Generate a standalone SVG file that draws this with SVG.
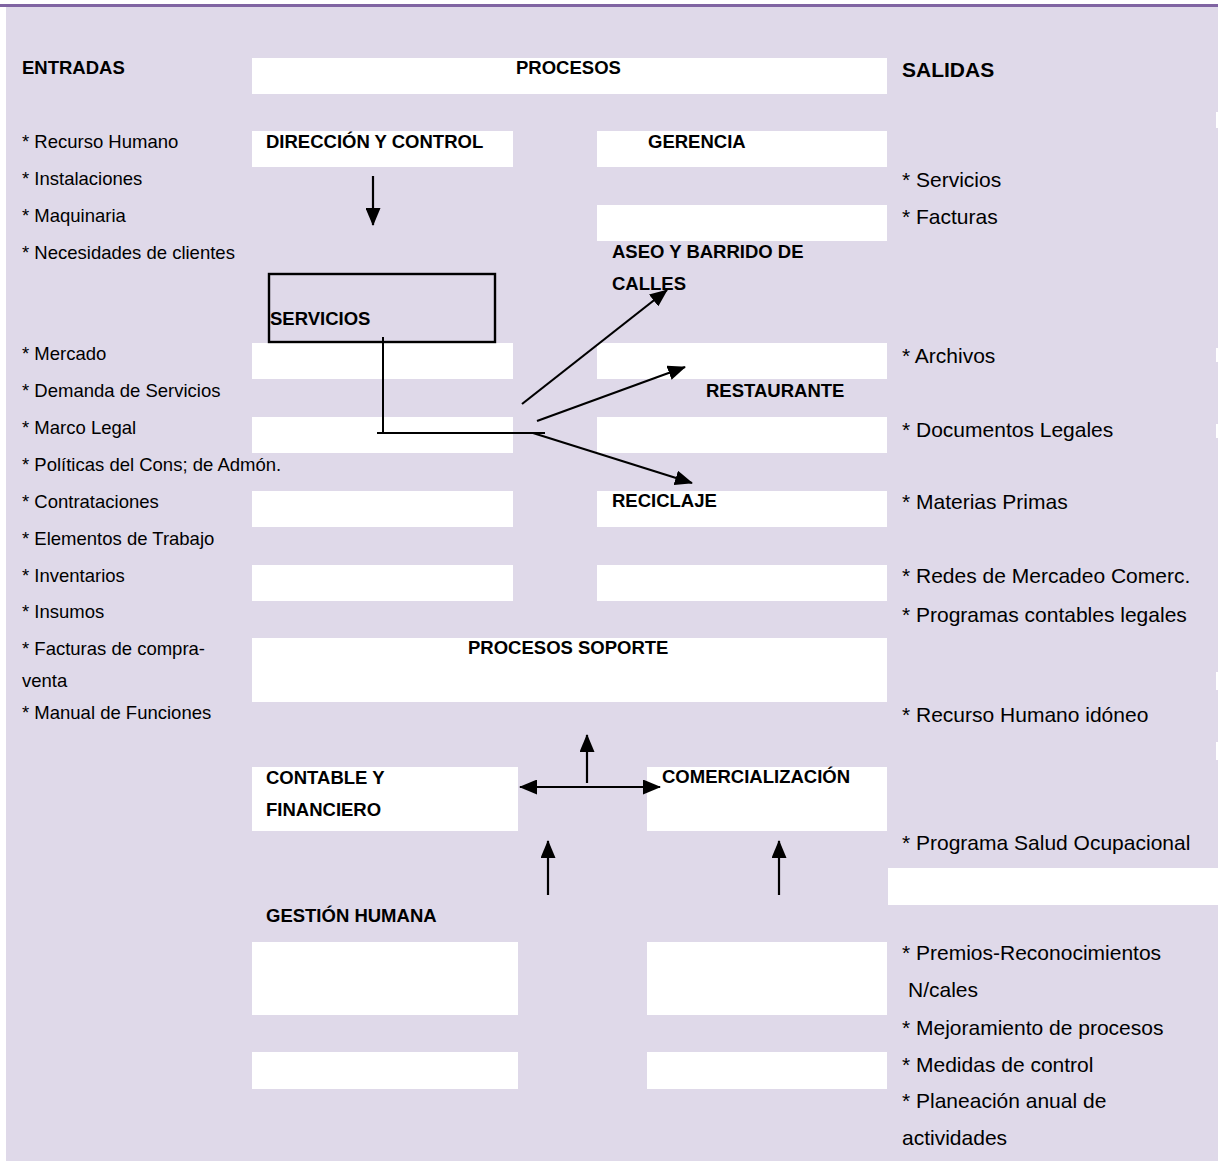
<svg xmlns="http://www.w3.org/2000/svg" width="1218" height="1161" viewBox="0 0 1218 1161">
<style>
.bg{fill:#dfd9e9}
.cell{fill:#ffffff}
.lbl{font-family:"Liberation Sans",Arial,sans-serif;font-weight:bold;font-size:18.5px;fill:#000}
.big{font-family:"Liberation Sans",Arial,sans-serif;font-weight:bold;font-size:21px;fill:#000}
.in{font-family:"Liberation Sans",Arial,sans-serif;font-size:18.5px;fill:#000}
.out{font-family:"Liberation Sans",Arial,sans-serif;font-size:21px;fill:#000}
.ln{stroke:#000;stroke-width:2;fill:none}
.arr{stroke:#000;stroke-width:2.2;fill:none;marker-end:url(#ah)}
</style>
<defs>
<marker id="ah" markerUnits="userSpaceOnUse" markerWidth="19" markerHeight="15" refX="17" refY="7.5" orient="auto-start-reverse">
<path d="M0,0 L18,7.5 L0,15 Z" fill="#000"/>
</marker>
</defs>
<rect x="0" y="0" width="1218" height="1161" fill="#ffffff"/>
<rect class="bg" x="6" y="7" width="1212" height="1154"/>
<rect x="0" y="4" width="1218" height="3" fill="#8064a2"/>
<g id="edge">
<rect class="cell" x="1216" y="112" width="2" height="16"/>
<rect class="cell" x="1216" y="348" width="2" height="14"/>
<rect class="cell" x="1216" y="424" width="2" height="14"/>
<rect class="cell" x="1216" y="672" width="2" height="18"/>
<rect class="cell" x="1216" y="742" width="2" height="18"/>
</g>

<g id="entradas">
<text class="lbl" x="22" y="74">ENTRADAS</text>
<text class="in" x="22" y="148">* Recurso Humano</text>
<text class="in" x="22" y="185">* Instalaciones</text>
<text class="in" x="22" y="222">* Maquinaria</text>
<text class="in" x="22" y="259">* Necesidades de clientes</text>
<text class="in" x="22" y="360">* Mercado</text>
<text class="in" x="22" y="397">* Demanda de Servicios</text>
<text class="in" x="22" y="434">* Marco Legal</text>
<text class="in" x="22" y="471">* Políticas del Cons; de Admón.</text>
<text class="in" x="22" y="508">* Contrataciones</text>
<text class="in" x="22" y="545">* Elementos de Trabajo</text>
<text class="in" x="22" y="582">* Inventarios</text>
<text class="in" x="22" y="618">* Insumos</text>
<text class="in" x="22" y="655">* Facturas de compra-</text>
<text class="in" x="22" y="687">venta</text>
<text class="in" x="22" y="719">* Manual de Funciones</text>
</g>

<g id="salidas">
<text class="big" x="902" y="77">SALIDAS</text>
<text class="out" x="902" y="187">* Servicios</text>
<text class="out" x="902" y="224">* Facturas</text>
<text class="out" x="902" y="363">* Archivos</text>
<text class="out" x="902" y="437">* Documentos Legales</text>
<text class="out" x="902" y="509">* Materias Primas</text>
<text class="out" x="902" y="583">* Redes de Mercadeo Comerc.</text>
<text class="out" x="902" y="622">* Programas contables legales</text>
<text class="out" x="902" y="722">* Recurso Humano idóneo</text>
<text class="out" x="902" y="850">* Programa Salud Ocupacional</text>
<text class="out" x="902" y="960">* Premios-Reconocimientos</text>
<text class="out" x="908" y="997">N/cales</text>
<text class="out" x="902" y="1035">* Mejoramiento de procesos</text>
<text class="out" x="902" y="1072">* Medidas de control</text>
<text class="out" x="902" y="1108">* Planeación anual de</text>
<text class="out" x="902" y="1145">actividades</text>
</g>

<g id="cells">
<rect class="cell" x="252" y="343" width="261" height="36"/>
<rect class="cell" x="597" y="343" width="290" height="36"/>
<rect class="cell" x="252" y="417" width="261" height="36"/>
<rect class="cell" x="597" y="417" width="290" height="36"/>
<rect class="cell" x="252" y="491" width="261" height="36"/>
<rect class="cell" x="252" y="565" width="261" height="36"/>
<rect class="cell" x="597" y="565" width="290" height="36"/>
<rect class="cell" x="597" y="205" width="290" height="36"/>
<rect class="cell" x="888" y="868" width="330" height="37"/>
<rect class="cell" x="252" y="942" width="266" height="73"/>
<rect class="cell" x="647" y="942" width="240" height="73"/>
<rect class="cell" x="252" y="1052" width="266" height="37"/>
<rect class="cell" x="647" y="1052" width="240" height="37"/>
</g>

<g id="procesos">
<rect class="cell" x="252" y="58" width="635" height="36"/>
<text class="lbl" x="516" y="74">PROCESOS</text>
</g>
<g id="direccion">
<rect class="cell" x="252" y="131" width="261" height="36"/>
<text class="lbl" x="266" y="148">DIRECCIÓN Y CONTROL</text>
</g>
<g id="gerencia">
<rect class="cell" x="597" y="131" width="290" height="36"/>
<text class="lbl" x="648" y="148">GERENCIA</text>
</g>
<g id="aseo">
<text class="lbl" x="612" y="258">ASEO Y BARRIDO DE</text>
<text class="lbl" x="612" y="290">CALLES</text>
</g>
<g id="servicios">
<rect x="269" y="274" width="226" height="68" fill="none" stroke="#000" stroke-width="2.4"/>
<text class="lbl" x="270" y="325">SERVICIOS</text>
</g>
<g id="restaurante">
<text class="lbl" x="706" y="397">RESTAURANTE</text>
</g>
<g id="reciclaje">
<rect class="cell" x="597" y="491" width="290" height="36"/>
<text class="lbl" x="612" y="507">RECICLAJE</text>
</g>
<g id="soporte">
<rect class="cell" x="252" y="638" width="635" height="64"/>
<text class="lbl" x="468" y="654">PROCESOS SOPORTE</text>
</g>
<g id="contable">
<rect class="cell" x="252" y="767" width="266" height="64"/>
<text class="lbl" x="266" y="784">CONTABLE Y</text>
<text class="lbl" x="266" y="816">FINANCIERO</text>
</g>
<g id="comercializacion">
<rect class="cell" x="647" y="767" width="240" height="64"/>
<text class="lbl" x="662" y="783">COMERCIALIZACIÓN</text>
</g>
<g id="gestion">
<text class="lbl" x="266" y="922">GESTIÓN HUMANA</text>
</g>

<g id="connectors">
<line class="arr" x1="373" y1="176" x2="373" y2="225"/>
<line class="ln" x1="383" y1="337" x2="383" y2="433" stroke-width="1.6"/>
<line class="ln" x1="377" y1="433" x2="545" y2="433"/>
<line class="arr" x1="522" y1="404" x2="667" y2="290"/>
<line class="arr" x1="537" y1="421" x2="685" y2="367"/>
<line class="arr" x1="533" y1="433" x2="692" y2="483"/>
<line class="arr" x1="587" y1="783" x2="587" y2="735"/>
<line class="arr" x1="520" y1="787" x2="660" y2="787" style="marker-start:url(#ah)"/>
<line class="arr" x1="548" y1="895" x2="548" y2="841"/>
<line class="arr" x1="779" y1="895" x2="779" y2="841"/>
</g>
</svg>
